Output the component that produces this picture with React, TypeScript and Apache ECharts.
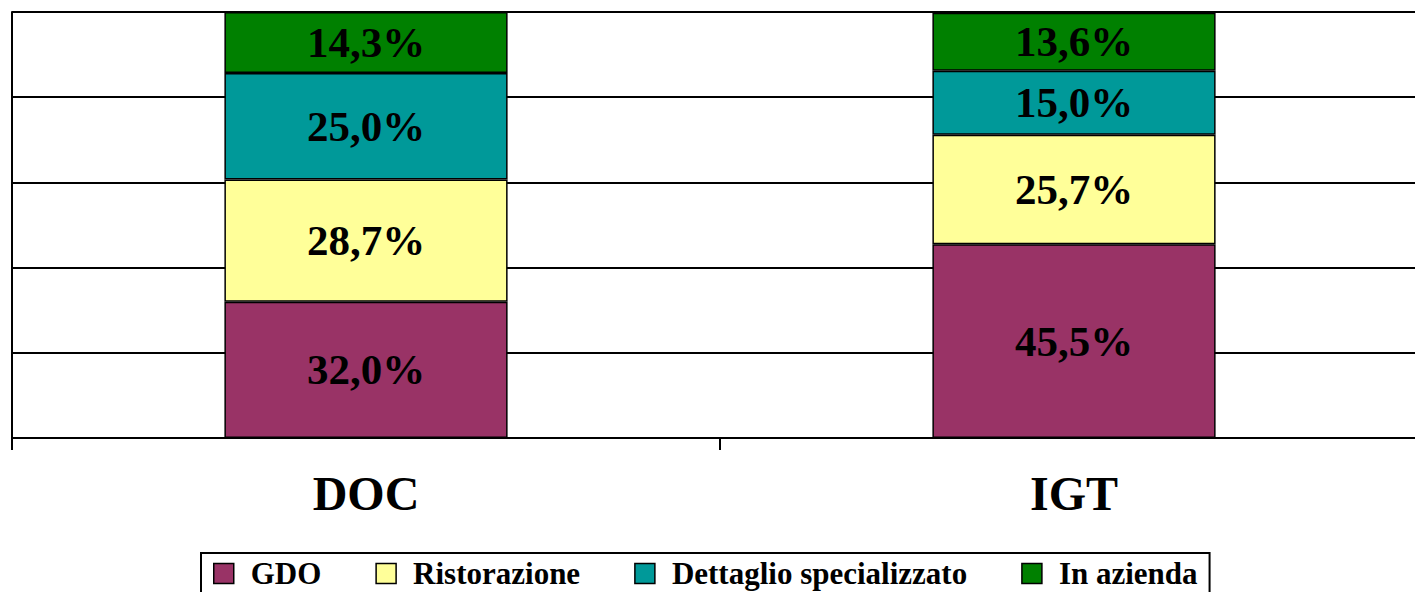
import React, { useEffect, useRef } from "react";
import * as echarts from "echarts";

const categories = ["DOC", "IGT"];
const seriesNames = ["GDO", "Ristorazione", "Dettaglio specializzato", "In azienda"];
const gdo = [32.0, 45.5];
const ristorazione = [28.7, 25.7];
const dettaglio = [25.0, 15.0];
const inAzienda = [14.3, 13.6];
const colors = ["#993366", "#FFFF99", "#009999", "#008000"];

const FONT = "'Liberation Serif', 'Times New Roman', serif";

export default function App() {
  const ref = useRef<HTMLDivElement>(null);
  useEffect(() => {
    if (!ref.current) return;
    const chart = echarts.init(ref.current, null, { renderer: "svg" });
    const values = [gdo, ristorazione, dettaglio, inAzienda];
    chart.setOption({
      animation: false,
      backgroundColor: "#ffffff",
      grid: { left: 12, top: 12, width: 1416, height: 426, containLabel: false },
      legend: {
        data: seriesNames,
        left: 201,
        top: 553,
        padding: [5, 12, 6, 12],
        borderColor: "#000",
        borderWidth: 2,
        itemWidth: 20,
        itemHeight: 20,
        itemGap: 54,
        icon: "rect",
        itemStyle: { borderColor: "#000", borderWidth: 1.5 },
        textStyle: {
          fontFamily: FONT,
          fontWeight: "bold",
          fontSize: 31,
          lineHeight: 28,
          color: "#000",
          padding: [0, 0, 0, 12],
        },
      },
      xAxis: {
        type: "category",
        data: categories,
        boundaryGap: true,
        axisLine: { show: true, lineStyle: { color: "#000", width: 2 } },
        axisTick: { show: true, length: 12, alignWithLabel: false, lineStyle: { color: "#000", width: 2 } },
        axisLabel: { fontFamily: FONT, fontWeight: "bold", fontSize: 48, color: "#000", margin: 31 },
      },
      yAxis: {
        type: "value",
        min: 0,
        max: 100,
        interval: 20,
        axisLabel: { show: false },
        axisTick: { show: false },
        axisLine: { show: true, lineStyle: { color: "#000", width: 2 } },
        splitLine: { show: true, lineStyle: { color: "#000", width: 2 } },
      },
      series: seriesNames.map((name, i) => ({
        name,
        type: "bar",
        stack: "total",
        barWidth: "40%",
        data: values[i],
        itemStyle: { color: colors[i], borderColor: "#000", borderWidth: 1.5 },
        label: {
          show: true,
          position: "inside",
          formatter: (p: any) => Number(p.value).toFixed(1).replace(".", ",") + "%",
          fontFamily: FONT,
          fontWeight: "bold",
          fontSize: 43,
          color: "#000",
        },
      })),
    });
    return () => chart.dispose();
  }, []);
  return (
    <div
      style={{ position: "absolute", left: 0, top: 0, width: 1415, height: 592, overflow: "hidden" }}
    >
      <div ref={ref} style={{ width: 1432, height: 592 }} />
    </div>
  );
}
